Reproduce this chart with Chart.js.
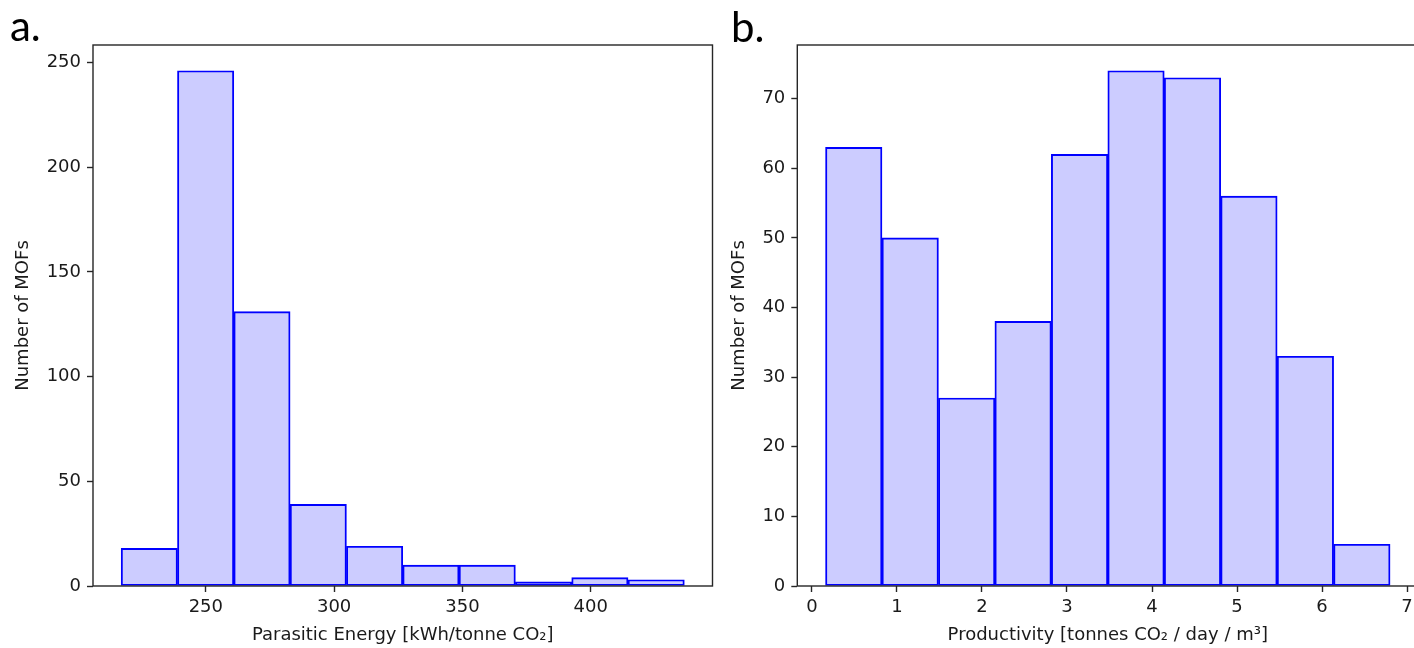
<!DOCTYPE html>
<html>
<head>
<meta charset="utf-8">
<script src="https://cdn.jsdelivr.net/npm/chart.js@4.4.1/dist/chart.umd.min.js"></script>
<style>
  html, body { margin: 0; padding: 0; background: #fff; overflow: hidden; width: 1414px; height: 648px; }
  #wrap { position: relative; width: 1414px; height: 648px; overflow: hidden; background: #fff; }
  canvas { position: absolute; top: 0; }
  #energyChart { left: 0; }
  #prodChart { left: 720px; }
</style>
</head>
<body>
<div id="wrap">
  <canvas id="energyChart" width="720" height="648"></canvas>
  <canvas id="prodChart" width="700" height="648"></canvas>
</div>
<script>
// Panel a: parasitic energy histogram
const energyEdges = [217.0, 238.95, 260.9, 282.85, 304.8, 326.75, 348.7, 370.65, 392.6, 414.55, 436.5];
const energyCounts = [18, 246, 131, 39, 19, 10, 10, 2, 4, 3];
const energyTicks = [250, 300, 350, 400];
const energyCountTicks = [0, 50, 100, 150, 200, 250];

// Panel b: productivity histogram
const prodEdges = [0.16, 0.824, 1.488, 2.152, 2.816, 3.48, 4.144, 4.808, 5.472, 6.136, 6.80];
const prodCounts = [63, 50, 27, 38, 62, 74, 73, 56, 33, 6];
const prodTicks = [0, 1, 2, 3, 4, 5, 6, 7];
const prodCountTicks = [0, 10, 20, 30, 40, 50, 60, 70];

const TEXT = '#1a1a1a';
const AXIS = '#262626';
const FONT = { family: 'DejaVu Sans', size: 18 };

// full box around the plot area, like matplotlib spines
const frame = {
  id: 'frame',
  afterDatasetsDraw(chart) {
    const { ctx, chartArea: a } = chart;
    ctx.save();
    ctx.strokeStyle = AXIS;
    ctx.lineWidth = 1.4;
    ctx.strokeRect(a.left, a.top, a.right - a.left, a.bottom - a.top);
    ctx.restore();
  }
};

// panel letter in the top-left corner
const panelLetter = {
  id: 'panelLetter',
  afterDraw(chart, args, opts) {
    const ctx = chart.ctx;
    ctx.save();
    ctx.fillStyle = '#000';
    ctx.font = '42px Lato, "Open Sans", sans-serif';
    ctx.textBaseline = 'alphabetic';
    ctx.textAlign = 'left';
    ctx.fillText(opts.text, opts.x, opts.y);
    ctx.restore();
  }
};

function makeHistogram(canvasId, edges, counts, xTicks, yTicks, xTitle, cfg) {
  const points = counts.map((c, i) => ({ x: (edges[i] + edges[i + 1]) / 2, y: c }));
  const span = edges[edges.length - 1] - edges[0];
  const xMin = edges[0] - 0.05 * span;
  const xMax = edges[edges.length - 1] + 0.05 * span;
  const yMax = Math.max(...counts) * 1.05;

  const gridOpts = {
    display: true, drawOnChartArea: false, drawTicks: true, offset: false,
    tickLength: 6, tickWidth: 1.4, tickColor: AXIS
  };

  return new Chart(document.getElementById(canvasId), {
    type: 'bar',
    data: {
      datasets: [{
        data: points,
        backgroundColor: 'rgba(0, 0, 255, 0.2)',
        borderColor: '#0000ff',
        borderWidth: 1.25,
        borderSkipped: false,
        barPercentage: 1,
        categoryPercentage: 1,
        grouped: false
      }]
    },
    options: {
      responsive: false,
      animation: false,
      devicePixelRatio: 1,
      layout: { padding: { left: 0, top: 45, right: cfg.padRight, bottom: 0 } },
      plugins: {
        legend: { display: false },
        tooltip: { enabled: false },
        panelLetter: cfg.letter
      },
      scales: {
        x: {
          type: 'linear',
          min: xMin,
          max: xMax,
          offset: false,
          afterBuildTicks: s => { s.ticks = xTicks.map(v => ({ value: v })); },
          afterFit: s => { s.height = 62; },
          grid: gridOpts,
          border: { display: false },
          ticks: { color: TEXT, font: FONT, padding: 5, maxRotation: 0, autoSkip: false },
          title: { display: true, text: xTitle, color: TEXT, font: FONT, padding: { top: 0, bottom: 2 } }
        },
        y: {
          type: 'linear',
          min: 0,
          max: yMax,
          afterBuildTicks: s => { s.ticks = yTicks.map(v => ({ value: v })); },
          afterFit: s => { s.width = cfg.yWidth; },
          grid: gridOpts,
          border: { display: false },
          ticks: { color: TEXT, font: FONT, padding: 6, autoSkip: false },
          title: { display: true, text: 'Number of MOFs', color: TEXT, font: FONT, padding: { top: cfg.yTitlePad, bottom: 0 } }
        }
      }
    },
    plugins: [frame, panelLetter]
  });
}

makeHistogram('energyChart', energyEdges, energyCounts, energyTicks, energyCountTicks,
  'Parasitic Energy [kWh/tonne CO\u2082]',
  { padRight: 7.5, yWidth: 93, yTitlePad: 13, letter: { text: 'a.', x: 10, y: 41 } });

makeHistogram('prodChart', prodEdges, prodCounts, prodTicks, prodCountTicks,
  'Productivity [tonnes CO\u2082 / day / m\u00b3]',
  { padRight: 1.7, yWidth: 77.3, yTitlePad: 9, letter: { text: 'b.', x: 11, y: 41.5 } });
</script>
</body>
</html>
